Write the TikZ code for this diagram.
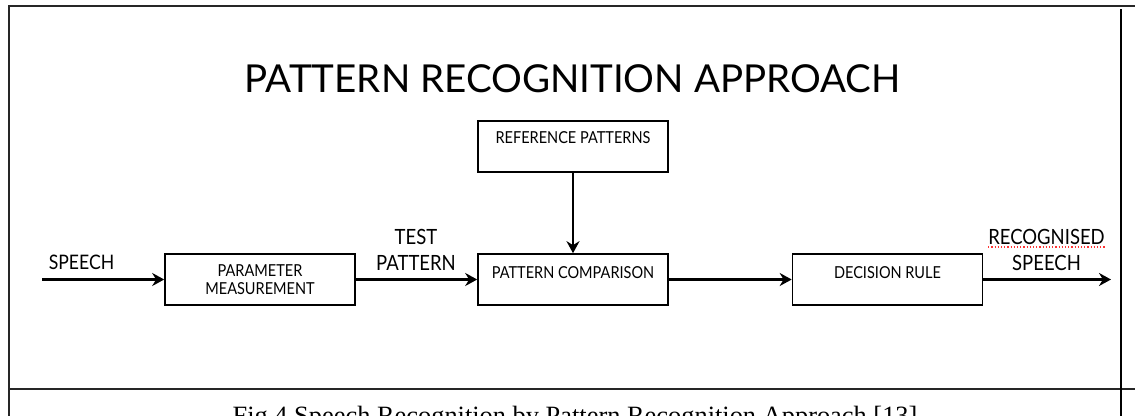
\documentclass[tikz,border=0pt]{standalone}
\usepackage{fontspec}
\setmainfont{Liberation Serif}
\newfontfamily\gillfont{Lato}[FakeStretch=0.88]
\newfontfamily\titlefont{Lato}
\usetikzlibrary{arrows.meta,positioning}

\begin{document}
\begin{tikzpicture}[x=1pt,y=-1pt,
  box/.style={draw,line width=1.6pt,minimum width=190pt,minimum height=51pt,inner sep=0pt,font=\gillfont\fontsize{16.5}{18}\selectfont},
  flow/.style={line width=3.5pt,-{Stealth[length=12pt,width=13pt]}},
  lbl/.style={font=\gillfont\fontsize{21}{24}\selectfont,inner sep=0pt,anchor=base}]
\clip (0,0) rectangle (1135,415);
\useasboundingbox (0,0) rectangle (1135,415);
% frame of the slide
\draw[line width=2.5pt,black!85] (9,420) -- (9,6) -- (1135,6);
\draw[line width=2.5pt,black!85] (9,389) -- (1135,389);
\draw[line width=2pt] (1121,9) -- (1121,420);
\node[font=\titlefont\fontsize{38.5}{42}\selectfont,anchor=base,inner sep=0pt] (title) at (572.5,92) {PATTERN RECOGNITION APPROACH};
% blocks
\node[box,text height=0pt,text depth=7pt] (ref) at (573,146.5) {REFERENCE PATTERNS};
\node[box,align=center] (meas) at (260,279.5) {PARAMETER\\MEASUREMENT};
\node[box,text height=0pt,text depth=3pt] (comp) at (573,279.5) {PATTERN COMPARISON};
\node[box,text height=0pt,text depth=3pt] (rule) at (887.5,279.5) {DECISION RULE};
\coordinate (in) at (42,279.5);
\coordinate (out) at (1111,279.5);
% arrows
\draw[flow] (in) -- (meas);
\draw[flow] (meas) -- (comp);
\draw[flow] (comp) -- (rule);
\draw[flow] (rule) -- (out);
\draw[flow,line width=2.5pt] (ref) -- (comp);
% labels
\node[lbl,font=\gillfont\fontsize{20}{24}\selectfont] (speech) at (81.5,269) {SPEECH};
\node[lbl] (test) at (416,244) {TEST};
\node[lbl] (pattern) at (416,270) {PATTERN};
\node[lbl] (recog) at (1046.5,244) {RECOGNISED};
\node[lbl] (speechout) at (1046.5,270) {SPEECH};
\draw[red!80,dotted,line width=1.2pt] ([yshift=-3pt]recog.base west) -- ([yshift=-3pt]recog.base east);
\node[font=\fontsize{26.4}{30}\selectfont,anchor=base,inner sep=0pt] (caption) at (575,424) {Fig.4 Speech Recognition by Pattern Recognition Approach [13]};
\end{tikzpicture}
\end{document}
